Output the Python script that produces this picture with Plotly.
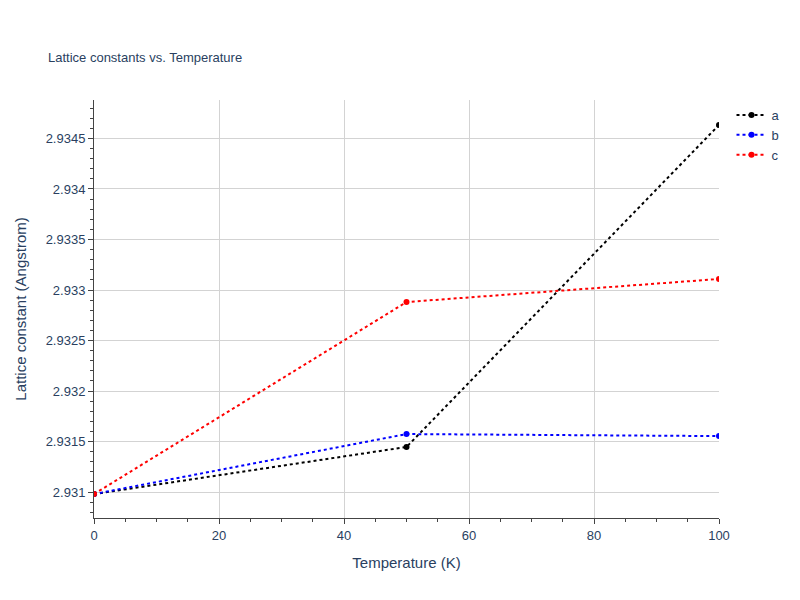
import plotly.graph_objects as go

temps = [0, 50, 100]
a_vals = [2.93098, 2.931446, 2.934634]
b_vals = [2.93098, 2.931574, 2.931554]
c_vals = [2.93098, 2.932881, 2.933109]
names = ["a", "b", "c"]
colors = ["black", "blue", "red"]

fig = go.Figure()
for n, v, c in zip(names, [a_vals, b_vals, c_vals], colors):
    fig.add_trace(go.Scatter(x=temps, y=v, name=n, mode="lines+markers",
                             line=dict(color=c, dash="dot", width=2),
                             marker=dict(color=c, size=6)))

axis_common = dict(showline=True, linecolor="#444", ticks="outside", tickcolor="#444",
                   showgrid=True, gridcolor="lightgrey", zeroline=False,
                   tickfont=dict(size=13),
                   minor=dict(ticks="outside", tickcolor="#444", ticklen=3, showgrid=False))
fig.update_layout(
    width=800, height=600, plot_bgcolor="white", paper_bgcolor="white",
    font=dict(family="Liberation Sans, Arial, sans-serif", color="#2a3f5f"),
    title=dict(text="Lattice constants vs. Temperature", font=dict(size=13), x=0.05, y=0.925),
    margin=dict(l=80, r=89, t=92, b=90),
    xaxis=dict(title=dict(text="Temperature (K)", font=dict(size=15)), range=[0, 100], **axis_common),
    yaxis=dict(title=dict(text="Lattice constant (Angstrom)", font=dict(size=15)),
               range=[2.930743, 2.934881], **axis_common),
    legend=dict(x=1.02, y=1, font=dict(size=13)),
)
fig.write_html("out.html")
